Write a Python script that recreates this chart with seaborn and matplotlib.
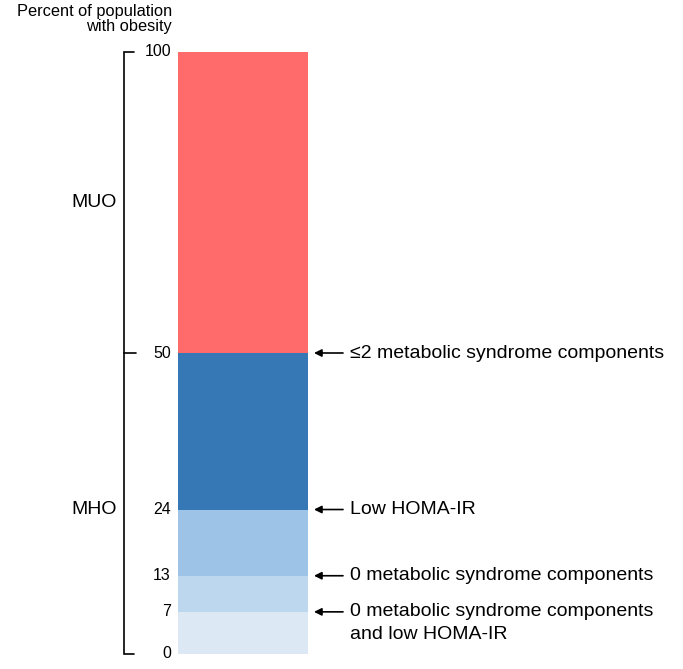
import matplotlib
matplotlib.use("Agg")
import matplotlib.pyplot as plt
import matplotlib.transforms as mtransforms
import seaborn as sns
import pandas as pd

sns.set_theme(style="white")
plt.rcParams['font.family'] = ['Liberation Sans', 'DejaVu Sans']

# Data
segment_names = ["MUO", "≤2 MetS", "Low HOMA-IR", "0 MetS", "0 MetS and low HOMA-IR"]
cumulative_top = [100, 50, 24, 13, 7]
segment_colors = ["#FF6B6B", "#3677B5", "#9DC3E6", "#BDD7EE", "#DDE8F5"]
tick_values = [100, 50, 24, 13, 7, 0]
annotation_values = [50, 24, 13, 7]
annotation_labels = ["≤2 metabolic syndrome components", "Low HOMA-IR",
                     "0 metabolic syndrome components",
                     "0 metabolic syndrome components\nand low HOMA-IR"]
group_labels = ["MUO", "MHO"]
group_positions = [75, 24]

W, H = 683, 669
fig = plt.figure(figsize=(W / 100, H / 100), dpi=100)
bar_l, bar_r = 178, 308
y0_px, y100_px = 654, 52
ax = fig.add_axes([bar_l / W, (H - y0_px) / H, (bar_r - bar_l) / W, (y0_px - y100_px) / H])

df = pd.DataFrame({"group": ["all"] * len(cumulative_top), "seg": segment_names, "top": cumulative_top})
for i, row in df.iterrows():
    sns.barplot(data=df.iloc[[i]], x="group", y="top", color=segment_colors[i],
                width=1.0, ax=ax, saturation=1, edgecolor="none", linewidth=0)

ax.set_xlim(-0.5, 0.5)
ax.set_ylim(0, 100)
ax.set_xlabel("")
ax.set_ylabel("")
ax.set_xticks([])
ax.set_yticks([])
for s in ax.spines.values():
    s.set_visible(False)

tr = mtransforms.blended_transform_factory(ax.transAxes, ax.transData)
def fx(px):
    return (px - bar_l) / (bar_r - bar_l)

# bracket
bx = fx(124)
ax.plot([fx(134), bx, bx, fx(134)], [100, 100, 0, 0], color="black", lw=1.2,
        transform=tr, clip_on=False, solid_joinstyle="miter")
ax.plot([bx, fx(136)], [50, 50], color="black", lw=1.2, transform=tr, clip_on=False)

for v in tick_values:
    ax.text(fx(171), v, str(v), transform=tr, ha="right", va="center", fontsize=11.5, color="black")

for lab, pos in zip(group_labels, group_positions):
    ax.text(fx(117), pos, lab, transform=tr, ha="right", va="center", fontsize=14, color="black")

for v, lab in zip(annotation_values, annotation_labels):
    ax.annotate("", xy=(fx(314), v), xytext=(fx(343), v), xycoords=tr, textcoords=tr,
                arrowprops=dict(arrowstyle="-|>", color="black", lw=1.2, mutation_scale=11,
                                shrinkA=0, shrinkB=0), annotation_clip=False)
    lines = lab.split("\n")
    for k, line in enumerate(lines):
        ax.annotate(line, xy=(fx(350), v), xycoords=tr, xytext=(0, -16 * k),
                    textcoords="offset points", ha="left", va="center",
                    fontsize=14, color="black", annotation_clip=False)

fig.text(172 / W, 1 - 4 / H, "Percent of population\nwith obesity", ha="right", va="top",
         fontsize=11.8, color="black", linespacing=1.0)

fig.savefig("out.png", dpi=100)
